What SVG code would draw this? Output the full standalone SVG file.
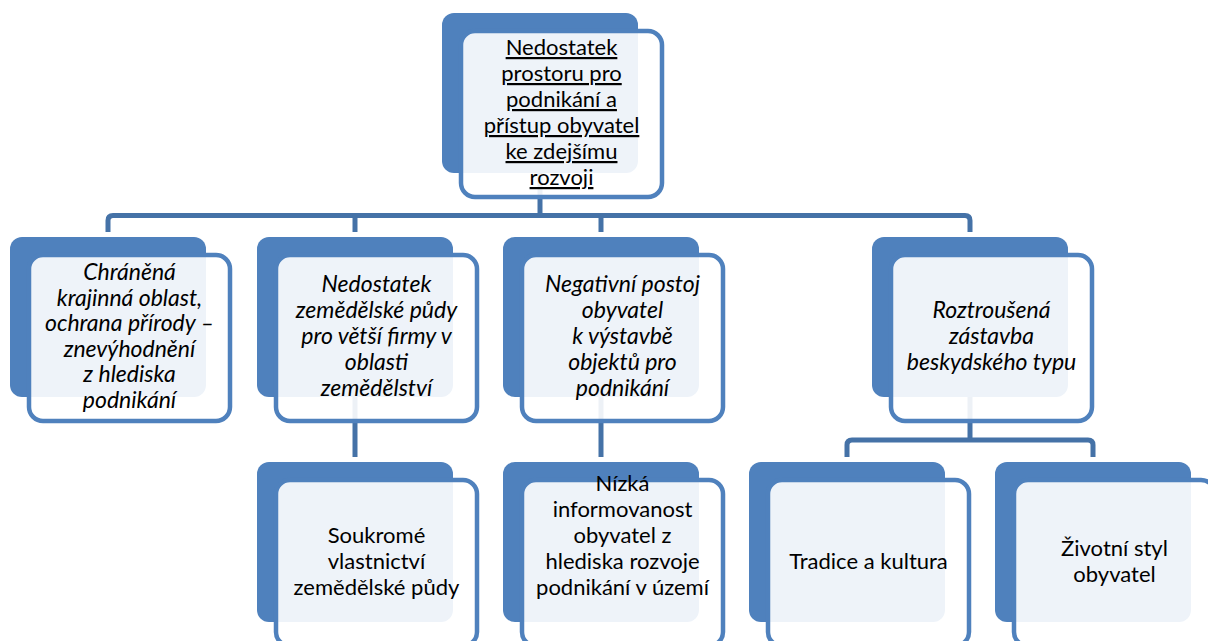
<svg xmlns="http://www.w3.org/2000/svg" width="1208" height="641" viewBox="0 0 1208 641">
<style>
.back{fill:#4F81BD}
.front{fill:#ffffff;fill-opacity:0.9;stroke:#4F81BD;stroke-width:4.5}
.conn{fill:none;stroke:#4572A7;stroke-width:5;stroke-linejoin:round}
text{font-family:Lato,"Liberation Sans",sans-serif;font-size:22px;fill:#000;text-anchor:middle}
.it{font-style:italic;font-size:23px}
.ul{text-decoration:underline}
</style>
<rect width="1208" height="641" fill="#ffffff"/>
<g id="connectors">
<path class="conn" d="M540 173 V215.5"/>
<path class="conn" d="M108 232 V220.5 Q108 215.5 113 215.5 H965 Q970 215.5 970 220.5 V232"/>
<path class="conn" d="M355 215.5 V232"/>
<path class="conn" d="M601 215.5 V232"/>
<path class="conn" d="M355 397 V457"/>
<path class="conn" d="M601 397 V457"/>
<path class="conn" d="M970 397 V440"/>
<path class="conn" d="M847 457 V445 Q847 440 852 440 H1088 Q1093 440 1093 445 V457"/>
</g>
<g id="node-top">
<rect class="back" x="442" y="13" width="196" height="160" rx="12"/>
<rect class="front" x="461" y="31" width="201" height="166" rx="14"/>
<text class="ul" x="561.5"><tspan x="561.5" y="55">Nedostatek</tspan><tspan x="561.5" y="81">prostoru pro</tspan><tspan x="561.5" y="107">podnikání a</tspan><tspan x="561.5" y="133">přístup obyvatel</tspan><tspan x="561.5" y="159">ke zdejšímu</tspan><tspan x="561.5" y="185">rozvoji</tspan></text>
</g>
<g id="node-chranena">
<rect class="back" x="10" y="237" width="196" height="160" rx="12"/>
<rect class="front" x="29" y="255" width="201" height="166" rx="14"/>
<text class="it"><tspan x="129.5" y="280">Chráněná</tspan><tspan x="129.5" y="305.6">krajinná oblast,</tspan><tspan x="129.5" y="331.2">ochrana přírody –</tspan><tspan x="129.5" y="356.8">znevýhodnění</tspan><tspan x="129.5" y="382.4">z hlediska</tspan><tspan x="129.5" y="408">podnikání</tspan></text>
</g>
<g id="node-nedostatek-pudy">
<rect class="back" x="257" y="237" width="196" height="160" rx="12"/>
<rect class="front" x="276" y="255" width="201" height="166" rx="14"/>
<text class="it"><tspan x="376.5" y="292.3">Nedostatek</tspan><tspan x="376.5" y="318.3">zemědělské půdy</tspan><tspan x="376.5" y="344.3">pro větší firmy v</tspan><tspan x="376.5" y="370.3">oblasti</tspan><tspan x="376.5" y="396.3">zemědělství</tspan></text>
</g>
<g id="node-negativni">
<rect class="back" x="503" y="237" width="196" height="160" rx="12"/>
<rect class="front" x="522" y="255" width="201" height="166" rx="14"/>
<text class="it"><tspan x="622.5" y="292.3">Negativní postoj</tspan><tspan x="622.5" y="318.3">obyvatel</tspan><tspan x="622.5" y="344.3">k výstavbě</tspan><tspan x="622.5" y="370.3">objektů pro</tspan><tspan x="622.5" y="396.3">podnikání</tspan></text>
</g>
<g id="node-roztrousena">
<rect class="back" x="872" y="237" width="196" height="160" rx="12"/>
<rect class="front" x="891" y="255" width="201" height="166" rx="14"/>
<text class="it"><tspan x="991.5" y="318.3">Roztroušená</tspan><tspan x="991.5" y="344.3">zástavba</tspan><tspan x="991.5" y="370.3">beskydského typu</tspan></text>
</g>
<g id="node-soukrome">
<rect class="back" x="257" y="462" width="196" height="160" rx="12"/>
<rect class="front" x="276" y="480" width="201" height="166" rx="14"/>
<text><tspan x="376.5" y="543">Soukromé</tspan><tspan x="376.5" y="569">vlastnictví</tspan><tspan x="376.5" y="595">zemědělské půdy</tspan></text>
</g>
<g id="node-nizka">
<rect class="back" x="503" y="462" width="196" height="160" rx="12"/>
<rect class="front" x="522" y="480" width="201" height="166" rx="14"/>
<text><tspan x="622.5" y="491">Nízká</tspan><tspan x="622.5" y="517">informovanost</tspan><tspan x="622.5" y="543">obyvatel z</tspan><tspan x="622.5" y="569">hlediska rozvoje</tspan><tspan x="622.5" y="595">podnikání v území</tspan></text>
</g>
<g id="node-tradice">
<rect class="back" x="749" y="462" width="196" height="160" rx="12"/>
<rect class="front" x="768" y="480" width="201" height="166" rx="14"/>
<text><tspan x="868.5" y="569">Tradice a kultura</tspan></text>
</g>
<g id="node-zivotni">
<rect class="back" x="995" y="462" width="196" height="160" rx="12"/>
<rect class="front" x="1014" y="480" width="201" height="166" rx="14"/>
<text><tspan x="1114.5" y="556">Životní styl</tspan><tspan x="1114.5" y="582">obyvatel</tspan></text>
</g>
</svg>
